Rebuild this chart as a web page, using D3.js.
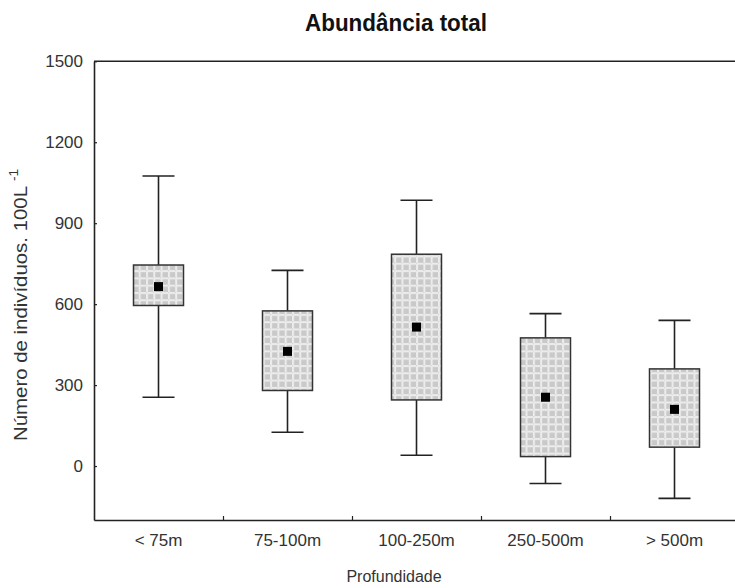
<!DOCTYPE html>
<html>
<head>
<meta charset="utf-8">
<script src="https://cdn.jsdelivr.net/npm/d3@7"></script>
<style>
html,body{margin:0;padding:0;background:#fff;}
svg{display:block;}
</style>
</head>
<body>
<script>
// ---- data ----
const categories = ["< 75m", "75-100m", "100-250m", "250-500m", "> 500m"];
const whiskerHigh = [1075, 725, 985, 565, 540];
const boxHigh     = [745, 575, 785, 475, 360];
const means       = [665, 425, 515, 255, 210];
const boxLow      = [595, 280, 245, 35, 70];
const whiskerLow  = [255, 125, 40, -65, -120];
const yTicks = [0, 300, 600, 900, 1200, 1500];
const yDomain = [-200, 1500];

(function () {
const W = 735, H = 588;
const svg = d3.select("body").append("svg").attr("width", W).attr("height", H)
  .style("font-family", "'Liberation Sans', Arial, sans-serif");

// pattern for box fill
const defs = svg.append("defs");
const pat = defs.append("pattern").attr("id", "grid").attr("patternUnits", "userSpaceOnUse")
  .attr("width", 7.3).attr("height", 7.3);
pat.append("rect").attr("width", 7.3).attr("height", 7.3).attr("fill", "#ececec");
pat.append("rect").attr("x", 2).attr("y", 2).attr("width", 5.3).attr("height", 5.3).attr("fill", "#c9c9c9");
pat.append("rect").attr("x", 0).attr("y", 0).attr("width", 1).attr("height", 1).attr("fill", "#d0d0d0");

const mLeft = 94, mRight = 739, mTop = 61.3, mBottom = 520;
const y = d3.scaleLinear().domain(yDomain).range([mBottom, mTop]);
const x = d3.scaleBand().domain(categories).range([mLeft, mRight]).padding(0);
const xi = d3.scaleLinear().domain([0, categories.length]).range([mLeft, mRight]);

// top frame line
svg.append("line").attr("x1", mLeft).attr("x2", W).attr("y1", y(yDomain[1])).attr("y2", y(yDomain[1]))
  .attr("stroke", "#222").attr("stroke-width", 1.6);

// y axis
const gy = svg.append("g").attr("transform", `translate(${mLeft},0)`)
  .call(d3.axisLeft(y).tickValues(yTicks).tickFormat(d3.format("d"))
    .tickSizeInner(-3).tickSizeOuter(0).tickPadding(11));
gy.select(".domain").attr("stroke", "#222").attr("stroke-width", 1.6);
gy.selectAll(".tick line").attr("stroke", "#222").attr("stroke-width", 1.2);
gy.selectAll(".tick text").attr("font-size", 17).attr("fill", "#333").style("font-family", "'Liberation Sans', Arial, sans-serif");

// x axis: boundary ticks
const gxt = svg.append("g").attr("transform", `translate(0,${mBottom})`)
  .call(d3.axisBottom(xi).tickValues([1, 2, 3, 4]).tickSizeInner(-4).tickSizeOuter(0).tickFormat(""));
gxt.select(".domain").attr("stroke", "#222").attr("stroke-width", 1.6);
gxt.selectAll(".tick line").attr("stroke", "#222").attr("stroke-width", 1.2);

// x axis labels
const gx = svg.append("g").attr("transform", `translate(0,${mBottom})`)
  .call(d3.axisBottom(x).tickSize(0).tickPadding(14));
gx.select(".domain").remove();
gx.selectAll(".tick text").attr("font-size", 17).attr("fill", "#333").style("font-family", "'Liberation Sans', Arial, sans-serif");

// boxes
const boxW = 50, capW = 32;
const g = svg.append("g");
categories.forEach((c, i) => {
  const cx = x(c) + x.bandwidth() / 2;
  g.append("line").attr("x1", cx).attr("x2", cx).attr("y1", y(whiskerHigh[i])).attr("y2", y(boxHigh[i]))
    .attr("stroke", "#222").attr("stroke-width", 1.6);
  g.append("line").attr("x1", cx).attr("x2", cx).attr("y1", y(boxLow[i])).attr("y2", y(whiskerLow[i]))
    .attr("stroke", "#222").attr("stroke-width", 1.6);
  g.append("line").attr("x1", cx - capW / 2).attr("x2", cx + capW / 2).attr("y1", y(whiskerHigh[i])).attr("y2", y(whiskerHigh[i]))
    .attr("stroke", "#222").attr("stroke-width", 1.6);
  g.append("line").attr("x1", cx - capW / 2).attr("x2", cx + capW / 2).attr("y1", y(whiskerLow[i])).attr("y2", y(whiskerLow[i]))
    .attr("stroke", "#222").attr("stroke-width", 1.6);
  g.append("rect").attr("x", cx - boxW / 2).attr("width", boxW)
    .attr("y", y(boxHigh[i])).attr("height", y(boxLow[i]) - y(boxHigh[i]))
    .attr("fill", "url(#grid)").attr("stroke", "#333").attr("stroke-width", 1.5);
  g.append("rect").attr("x", cx - 4.5).attr("width", 9)
    .attr("y", y(means[i]) - 4.5).attr("height", 9).attr("fill", "#000");
});

// title
svg.append("text").attr("x", 396).attr("y", 31).attr("text-anchor", "middle")
  .attr("font-size", 24).attr("font-weight", "bold").attr("fill", "#111")
  .style("font-family", "'Liberation Sans Narrow', 'Liberation Sans', Arial, sans-serif")
  .attr("textLength", 182).attr("lengthAdjust", "spacingAndGlyphs")
  .text("Abundância total");

// x title
svg.append("text").attr("x", 394).attr("y", 582).attr("text-anchor", "middle")
  .attr("font-size", 16).attr("fill", "#333").text("Profundidade");

// y title
const yt = svg.append("text").attr("transform", "translate(27,305) rotate(-90)")
  .attr("text-anchor", "middle").attr("font-size", 18).attr("fill", "#333")
  .attr("textLength", 272).attr("lengthAdjust", "spacingAndGlyphs");
yt.append("tspan").text("Número de indivíduos. 100L ");
yt.append("tspan").attr("font-size", 12).attr("dy", -9).text("-1");
})();
</script>
</body>
</html>
